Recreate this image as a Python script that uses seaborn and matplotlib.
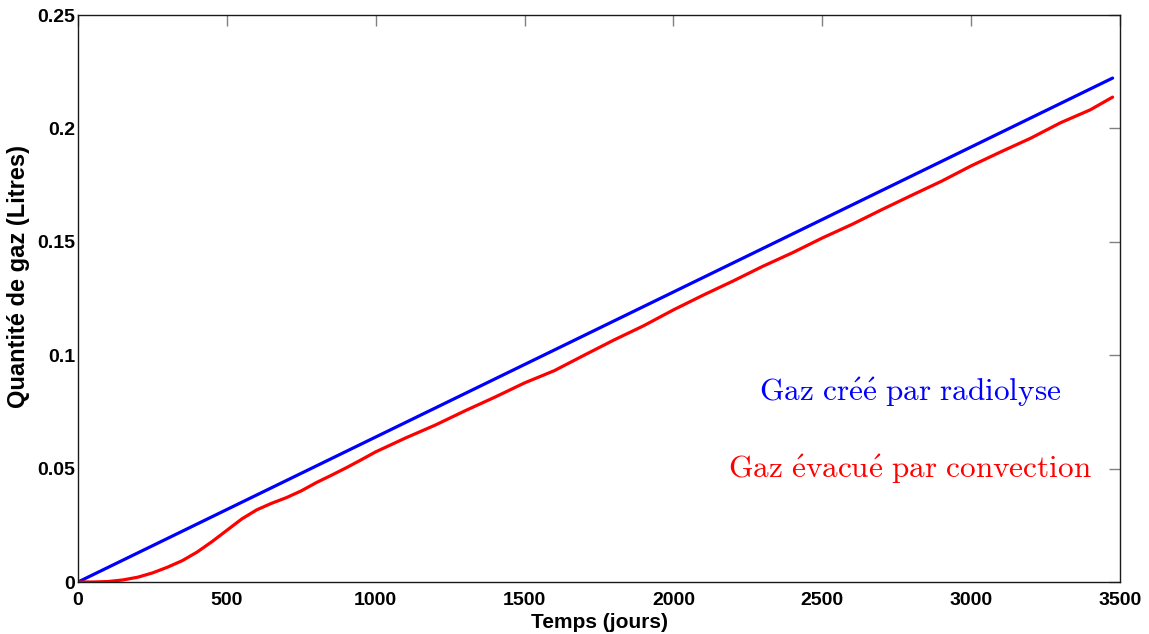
import matplotlib
matplotlib.use("Agg")
import matplotlib.pyplot as plt
import seaborn as sns
import pandas as pd

# Gas produced by radiolysis (linear build-up)
jours_radiolyse = [0, 3475]
gaz_radiolyse = [0.0, 0.2222]

# Gas removed by convection
jours_convection = [0, 50, 100, 150, 200, 250, 300, 350, 400, 450, 500, 550,
                    600, 650, 700, 750, 800, 850, 900, 950, 1000, 1100, 1200,
                    1300, 1400, 1500, 1600, 1700, 1800, 1900, 2000, 2100, 2200,
                    2300, 2400, 2500, 2600, 2700, 2800, 2900, 3000, 3100, 3200,
                    3300, 3400, 3475]
gaz_convection = [0.0, 0.0, 0.0002, 0.0009, 0.0021, 0.0040, 0.0065, 0.0094,
                  0.0132, 0.0178, 0.0228, 0.0278, 0.0318, 0.0347, 0.0372,
                  0.0402, 0.0438, 0.0470, 0.0503, 0.0538, 0.0574, 0.0635,
                  0.0692, 0.0755, 0.0815, 0.0878, 0.0932, 0.1000, 0.1067,
                  0.1130, 0.1200, 0.1265, 0.1327, 0.1392, 0.1452, 0.1517,
                  0.1577, 0.1642, 0.1705, 0.1767, 0.1835, 0.1897, 0.1957,
                  0.2025, 0.2082, 0.2138]

x_ticks = [0, 500, 1000, 1500, 2000, 2500, 3000, 3500]
y_ticks = [0, 0.05, 0.1, 0.15, 0.2, 0.25]
y_tick_labels = ["0", "0.05", "0.1", "0.15", "0.2", "0.25"]

sns.set_style("white")
plt.rcParams["font.family"] = ["Liberation Sans", "DejaVu Sans"]
plt.rcParams["mathtext.fontset"] = "cm"
plt.rcParams["text.color"] = "black"
plt.rcParams["axes.labelcolor"] = "black"
plt.rcParams["xtick.labelcolor"] = "black"
plt.rcParams["ytick.labelcolor"] = "black"

df_rad = pd.DataFrame({"jours": jours_radiolyse, "gaz": gaz_radiolyse})
df_conv = pd.DataFrame({"jours": jours_convection, "gaz": gaz_convection})

fig = plt.figure(figsize=(11.49, 6.34), dpi=100)
ax = fig.add_axes([0.0679, 0.082, 0.9069, 0.8943])

sns.lineplot(data=df_rad, x="jours", y="gaz", ax=ax, color="#0000ff",
             linewidth=2.3, estimator=None)
sns.lineplot(data=df_conv, x="jours", y="gaz", ax=ax, color="#ff0000",
             linewidth=2.3, estimator=None)

ax.set_xlim(0, 3500)
ax.set_ylim(0, 0.25)
ax.set_xticks(x_ticks)
ax.set_xticklabels([str(t) for t in x_ticks])
ax.set_yticks(y_ticks)
ax.set_yticklabels(y_tick_labels)

ax.tick_params(axis="both", direction="in", length=8, width=1,
               color="#808080", labelcolor="black", top=True, right=True,
               labelsize=14)
ax.tick_params(axis="x", pad=7)
ax.tick_params(axis="y", pad=2)
for lbl in ax.get_xticklabels() + ax.get_yticklabels():
    lbl.set_fontweight("bold")

for sp in ax.spines.values():
    sp.set_visible(True)
    sp.set_color("#1a1a1a")
    sp.set_linewidth(1.0)

ax.set_xlabel("Temps (jours)", fontsize=15, fontweight="bold", labelpad=3,
              color="black")
ax.set_ylabel("Quantité de gaz (Litres)", fontsize=17, fontweight="bold",
              color="black")
ax.yaxis.set_label_coords(-0.046, 0.538)

ax.text(2795, 0.0836, r"$\mathrm{Gaz\ cr\acute{e}\acute{e}\ par\ radiolyse}$",
        color="#0000ff", fontsize=22.5, ha="center", va="center")
ax.text(2795, 0.0500,
        r"$\mathrm{Gaz\ \acute{e}vacu\acute{e}\ par\ convection}$",
        color="#ff0000", fontsize=22.5, ha="center", va="center")

fig.savefig("out.png", dpi=100)
